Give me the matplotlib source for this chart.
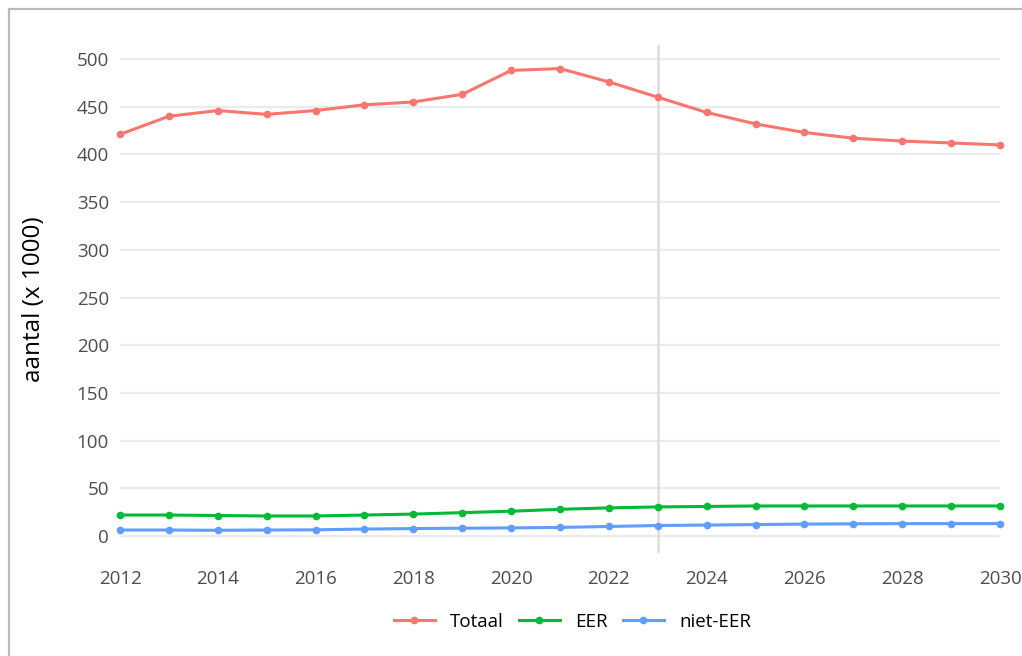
import matplotlib.pyplot as plt
from matplotlib.lines import Line2D

# --- data ---
years = list(range(2012, 2031))
totaal = [421, 440, 446, 442, 446, 452, 455, 463, 488, 490, 476, 460,
          444, 432, 423, 417, 414, 412, 410]
eer = [22, 22, 21.5, 21, 21, 22, 23, 24.5, 26, 28, 29.5, 30.5,
       31, 31.5, 31.5, 31.5, 31.5, 31.5, 31.5]
niet_eer = [6.3, 6.3, 6, 6.3, 6.5, 7.3, 7.8, 8.2, 8.5, 9, 10, 11,
            11.5, 12, 12.5, 12.8, 13, 13, 13]
series_names = ["Totaal", "EER", "niet-EER"]
colors = ["#F8766D", "#00BA38", "#619CFF"]
yticks = [0, 50, 100, 150, 200, 250, 300, 350, 400, 450, 500]
xticks = list(range(2012, 2031, 2))
cut_year = 2023

plt.rcParams['font.family'] = ['Open Sans', 'DejaVu Sans']

W, H = 1022, 656
fig = plt.figure(figsize=(W / 100, H / 100), dpi=100)
ax = fig.add_axes([120 / W, 1 - 553 / H, 880 / W, (553 - 45) / H])

for name, vals, c in zip(series_names, [totaal, eer, niet_eer], colors):
    ax.plot(years, vals, color=c, lw=2.2, marker="o", ms=4.5, label=name,
            clip_on=False, zorder=3)

ax.axvline(cut_year, color="#DDDDDD", lw=1.8, zorder=2)

ax.set_xlim(2012, 2030)
ax.set_ylim(-17.8, 514.7)
ax.set_xticks(xticks)
ax.set_yticks(yticks)
ax.grid(axis="y", color="#EBEBEB", lw=1.6)
ax.set_axisbelow(True)
for s in ax.spines.values():
    s.set_visible(False)
ax.tick_params(length=0, labelsize=13.5, colors="#4D4D4D", pad=8)
ax.tick_params(axis="x", pad=12)
ax.set_ylabel("aantal (x 1000)", fontsize=17.5, color="black", labelpad=22)

handles = [Line2D([0], [0], color=c, lw=2.2, marker="o", ms=4.5) for c in colors]
fig.legend(handles, series_names, loc="center", bbox_to_anchor=(0.56, 1 - 622 / H),
           ncol=3, frameon=False, fontsize=13.5, handlelength=2.2,
           columnspacing=0.8, handletextpad=0.8)

# outer frame (left and top edges visible)
fig.add_artist(Line2D([8.5 / W, 8.5 / W], [0, 1 - 8.5 / H], color="#BBBBBB",
                      lw=1.6, transform=fig.transFigure))
fig.add_artist(Line2D([8.5 / W, 1], [1 - 8.5 / H, 1 - 8.5 / H], color="#BBBBBB",
                      lw=1.6, transform=fig.transFigure))

fig.savefig("out.png", dpi=100)
